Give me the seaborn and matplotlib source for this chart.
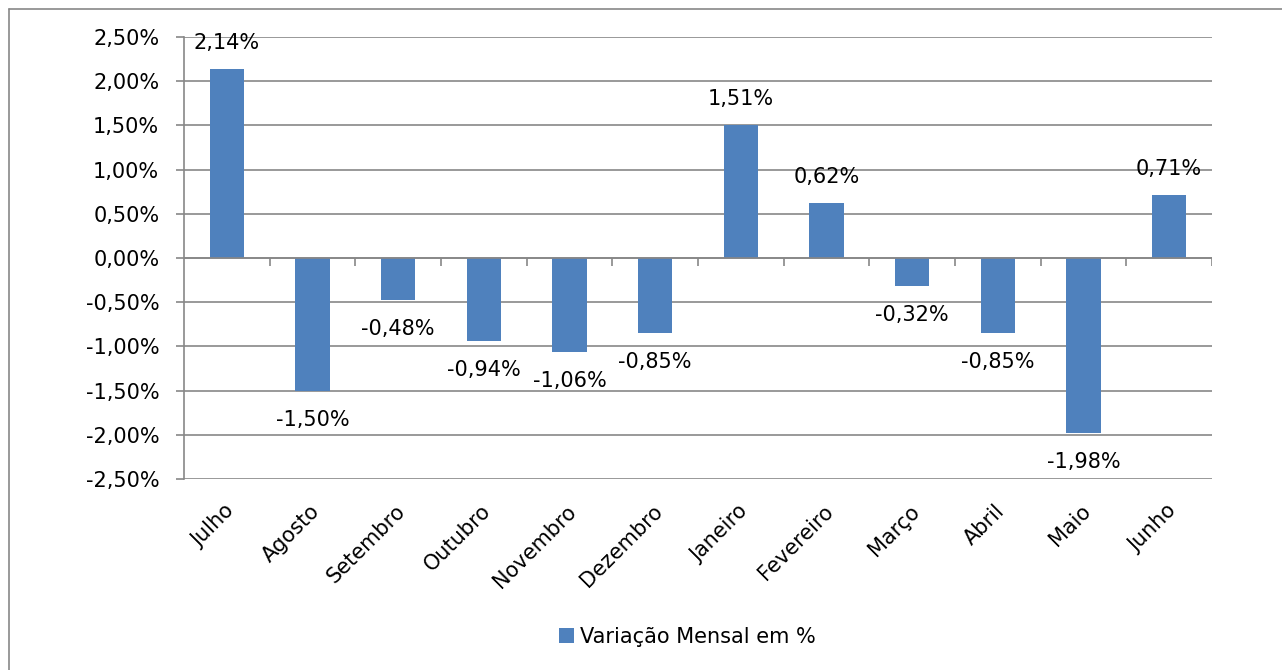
import numpy as np
import pandas as pd
import seaborn as sns
import matplotlib.pyplot as plt
from matplotlib.patches import Patch
from matplotlib.lines import Line2D
from matplotlib.transforms import ScaledTranslation

# DATA
months = ["Julho", "Agosto", "Setembro", "Outubro", "Novembro", "Dezembro",
          "Janeiro", "Fevereiro", "Março", "Abril", "Maio", "Junho"]
variation = [2.14, -1.50, -0.48, -0.94, -1.06, -0.85,
             1.51, 0.62, -0.32, -0.85, -1.98, 0.71]
series_name = "Variação Mensal em %"

BAR_COLOR = "#4F81BD"
GRID_COLOR = "#878787"
FS = 15

df = pd.DataFrame({"Mes": months, "Variacao": variation})

sns.set_style("white")
plt.rcParams["font.family"] = ["DejaVu Sans"]
plt.rcParams["font.size"] = FS
plt.rcParams["text.color"] = "black"
plt.rcParams["xtick.color"] = "black"
plt.rcParams["ytick.color"] = "black"

fig = plt.figure(figsize=(12.82, 6.70), dpi=100)
ax = fig.add_axes([184 / 1282, 1 - 479 / 670, 1028 / 1282, 442 / 670])

sns.barplot(data=df, x="Mes", y="Variacao", color=BAR_COLOR,
            width=0.4, saturation=1, linewidth=0, ax=ax, zorder=3)

yticks = np.arange(-2.5, 2.51, 0.5)
ax.set_ylim(-2.5, 2.5)
ax.set_xlim(-0.5, len(months) - 0.5)
ax.set_yticks(yticks)
ax.set_yticklabels([f"{v:.2f}%".replace(".", ",") for v in yticks])
ax.set_xlabel("")
ax.set_ylabel("")

# gridlines
for v in yticks:
    ax.axhline(v, color=GRID_COLOR, lw=1.2, zorder=1)
ax.axhline(0, color=GRID_COLOR, lw=1.2, zorder=4)

for side in ["top", "right", "bottom"]:
    ax.spines[side].set_visible(False)
ax.spines["left"].set_color(GRID_COLOR)
ax.spines["left"].set_linewidth(1.2)

ax.tick_params(axis="y", left=True, length=5.8, width=1.2, color=GRID_COLOR,
               labelcolor="black", pad=12, labelsize=FS)
ax.tick_params(axis="x", bottom=False, length=0, pad=21, labelcolor="black", labelsize=FS)

# category tick marks on the zero line
ax.vlines(np.arange(len(months)) + 0.5, -0.09, 0, colors=GRID_COLOR, lw=1.2, zorder=4)

offset = ScaledTranslation(4 / 100, 0, fig.dpi_scale_trans)
for lab in ax.get_xticklabels():
    lab.set_rotation(45)
    lab.set_ha("right")
    lab.set_va("center")
    lab.set_rotation_mode("anchor")
    lab.set_transform(lab.get_transform() + offset)

# data labels
for i, v in enumerate(variation):
    dy = 26 if v >= 0 else -29
    ax.annotate(f"{v:.2f}%".replace(".", ","), xy=(i, v), xytext=(0, dy),
                textcoords="offset pixels", ha="center", va="center",
                fontsize=FS, color="black", zorder=5)

# legend
handle = Patch(facecolor=BAR_COLOR, edgecolor="none")
fig.legend([handle], [series_name], loc="center", frameon=False,
           bbox_to_anchor=(687 / 1282, 1 - 637 / 670),
           handlelength=0.72, handleheight=0.72, handletextpad=0.3,
           fontsize=FS)

# outer chart border
fig.add_artist(Line2D([9 / 1282, 9 / 1282], [0, 1 - 9 / 670], color=GRID_COLOR, lw=1.2))
fig.add_artist(Line2D([9 / 1282, 1], [1 - 9 / 670, 1 - 9 / 670], color=GRID_COLOR, lw=1.2))

fig.savefig("out.png", dpi=100)
plt.close(fig)
